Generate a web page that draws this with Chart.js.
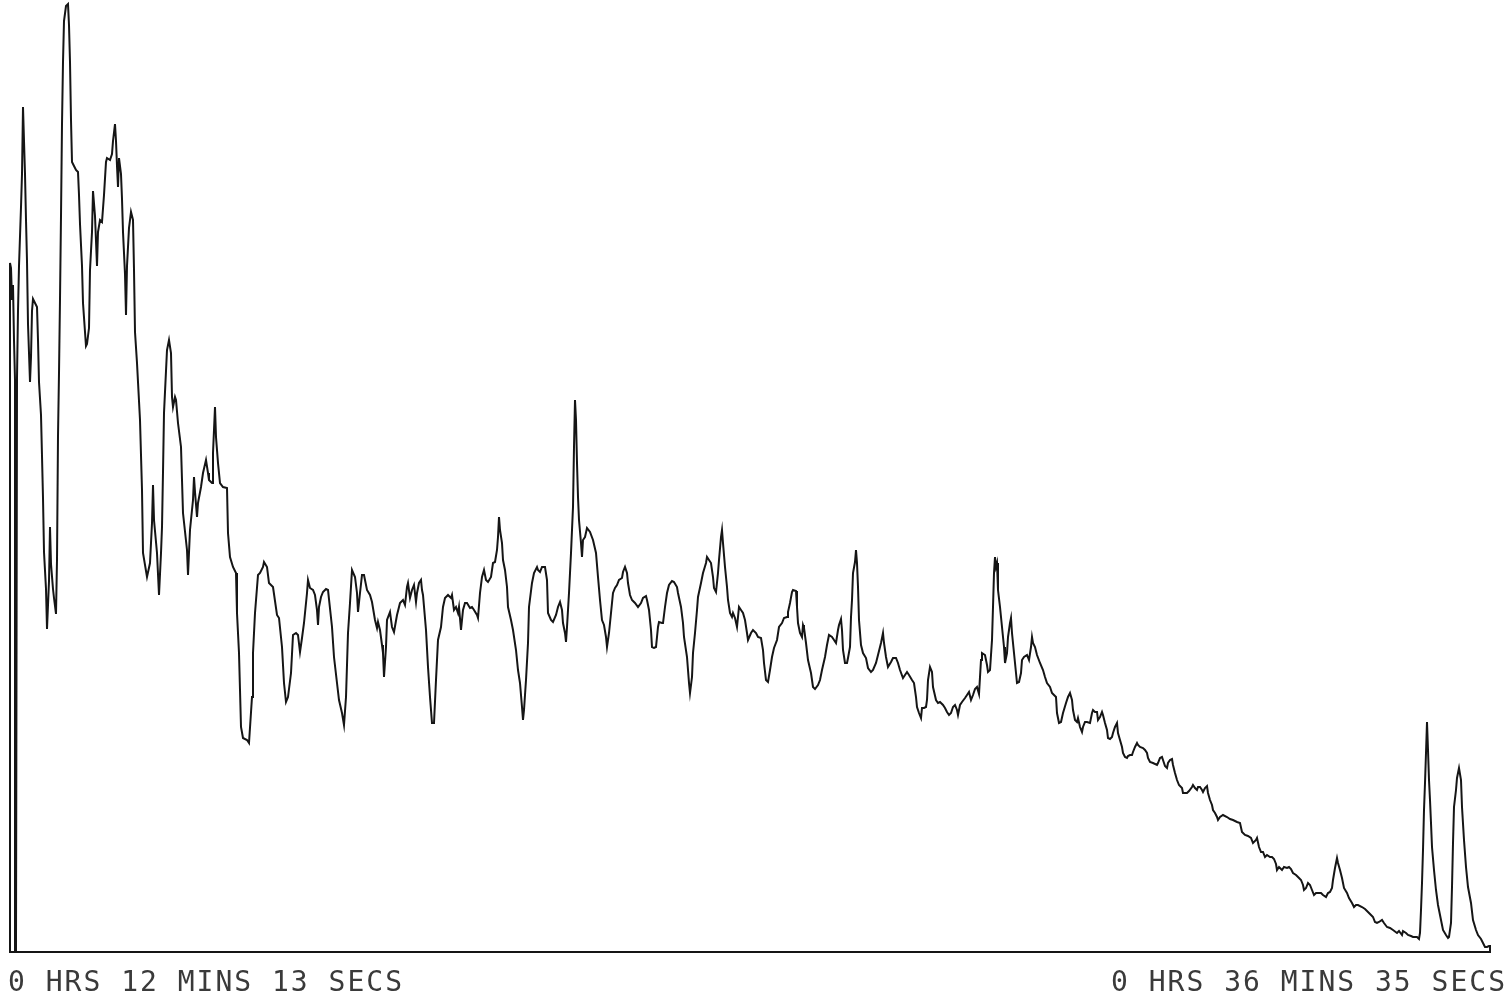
<!DOCTYPE html>
<html>
<head>
<meta charset="utf-8">
<title>Chromatogram 0:12:13 - 0:36:35</title>
<script src="https://cdn.jsdelivr.net/npm/chart.js@4.4.1/dist/chart.umd.min.js"></script>
<style>
  html, body { margin: 0; padding: 0; background: #ffffff; }
  canvas { display: block; }
</style>
</head>
<body>
<canvas id="chart" width="1509" height="1002"></canvas>
<script>
// scan number of each vertex of the trace
var scans = [
  10, 10, 11, 12, 13, 14, 15, 15, 16, 17,
  18, 19, 21, 22, 23, 24, 25, 26, 27, 28,
  29, 30, 31, 32, 33, 35, 37, 38, 39, 41,
  42, 43, 44, 46, 47, 49, 50, 51, 53, 54,
  56, 57, 58, 59, 60, 61, 62, 63, 64, 66,
  68, 69, 70, 71, 72, 74, 76, 78, 79, 80,
  82, 83, 85, 86, 87, 89, 90, 92, 93, 95,
  97, 98, 100, 102, 104, 106, 107, 110, 112, 113,
  115, 116, 117, 118, 119, 121, 122, 123, 125, 126,
  127, 129, 131, 133, 134, 135,
  137, 140, 142, 143, 147, 150, 152, 153, 154, 157,
  159, 161, 162, 163, 164, 167, 169, 171, 172, 173,
  175, 176, 178, 181, 183, 187, 188, 190, 193, 194,
  195, 197, 198, 201, 203, 206, 208, 209, 212, 213,
  215, 216, 218, 220, 223, 227, 228, 230, 233, 236,
  237, 239, 241, 243, 247, 249, 252, 253, 255, 258,
  260, 263, 264, 267, 269, 273,
  277, 279, 282, 284, 286, 288, 291, 293, 296, 298,
  300, 302, 304, 307, 308, 310, 313, 315, 317, 318,
  319, 321, 323, 326, 328, 332, 334, 337, 339, 342,
  344, 346, 348, 350, 352, 355, 357, 358, 360, 362,
  364, 367, 370, 372, 375, 377, 378, 380, 382, 383,
  384, 386, 387, 390, 392, 394, 397, 400, 403, 405,
  407, 408, 410, 412, 414, 416, 417, 419, 421, 422,
  423, 426, 428, 430, 432, 434,
  436, 438, 441, 443, 445, 448, 451, 452, 454, 456,
  458, 459, 461, 463, 465, 467, 470, 472, 474, 477,
  478, 480, 482, 484, 486, 488, 491, 493, 495, 497,
  498, 499, 500, 502, 503, 505, 507, 508, 511, 513,
  516, 518, 520, 522, 523, 524, 526, 528, 529, 532,
  534, 537, 538, 540, 542, 545, 547, 548, 551, 553,
  556, 558, 560, 562, 563, 565, 566, 567, 569, 571,
  573, 574, 575, 576, 577, 578, 579, 581, 582, 583,
  585, 587, 590, 593, 596, 598, 600,
  602, 604, 606, 607, 609, 611, 613, 615, 617, 619,
  622, 623, 625, 627, 628, 630, 632, 635, 638, 641,
  643, 646, 647, 649, 651, 652, 654, 656, 658, 659,
  662, 663, 665, 667, 669, 672, 674, 677, 678, 681,
  683, 684, 687, 688, 689, 690, 692, 693, 695, 697,
  698, 701, 703, 706, 707, 709, 711, 713, 714, 716,
  718, 719, 721, 722, 723, 725, 727, 728, 730, 732,
  733, 735, 737, 739, 741, 743, 745, 747, 748, 751,
  753,
  756, 758, 761, 763, 764, 766, 768, 770, 772, 774,
  777, 779, 782, 784, 787, 788, 790, 792, 793, 796,
  797, 798, 800, 802, 803, 804, 806, 808, 811, 813,
  815, 818, 820, 822, 825, 827, 829, 832, 834, 836,
  838, 839, 841, 842, 843, 845, 847, 848, 850, 851,
  852, 853, 855, 856, 857, 858, 859, 861, 863, 866,
  868, 871, 873, 876, 878, 881, 883, 884, 886, 888,
  891, 893, 896, 898, 900,
  903, 905, 907, 909, 912, 914, 916, 917, 919, 921,
  922, 924, 926, 927, 928, 930, 932, 933, 936, 938,
  940, 943, 945, 947, 949, 951, 953, 955, 957, 958,
  960, 962, 965, 967, 969, 971, 973, 975, 977, 979,
  981, 982, 985, 987, 988, 990, 992, 993, 994, 995,
  996, 997, 998, 1000, 1002, 1004, 1005, 1007, 1008, 1010,
  1011, 1012, 1014, 1016, 1017, 1019, 1021, 1022, 1024, 1027,
  1029, 1031, 1032, 1033, 1035, 1037, 1040, 1043, 1045, 1047,
  1050, 1052, 1054, 1056, 1057, 1059, 1061, 1063, 1066, 1068,
  1070,
  1072, 1073, 1075, 1077, 1078, 1080, 1082, 1083, 1085, 1087,
  1090, 1092, 1093, 1095, 1097, 1098, 1100, 1102, 1103, 1105,
  1107, 1108, 1110, 1112, 1113, 1115, 1117, 1118, 1120, 1122,
  1123, 1125, 1127, 1128, 1130, 1132, 1133, 1135, 1137, 1138,
  1140, 1143, 1145, 1147, 1148, 1150, 1153, 1157, 1158, 1160,
  1162, 1163, 1165, 1167, 1168, 1170, 1172, 1173, 1175, 1177,
  1179, 1182, 1183, 1187, 1189, 1192, 1193, 1195, 1197, 1198,
  1200, 1202, 1203, 1205, 1207, 1208, 1210, 1212, 1213, 1215,
  1217, 1218, 1220, 1223, 1227, 1230, 1233, 1237, 1240,
  1242, 1245, 1248, 1251, 1253, 1256, 1257, 1259, 1261, 1263,
  1265, 1267, 1270, 1272, 1274, 1276, 1277, 1279, 1282, 1284,
  1287, 1289, 1291, 1293, 1296, 1298, 1301, 1303, 1304, 1306,
  1308, 1310, 1312, 1314, 1316, 1318, 1321, 1323, 1326, 1328,
  1330, 1332, 1333, 1335, 1337, 1338, 1340, 1342, 1344, 1347,
  1349, 1352, 1354, 1356, 1358, 1362, 1365, 1368, 1371, 1373,
  1375, 1377, 1379, 1382, 1384, 1387, 1390, 1393, 1397, 1399,
  1402, 1403, 1406, 1408, 1411, 1413, 1417, 1419, 1420, 1421,
  1422, 1423, 1424, 1425, 1426, 1427, 1428, 1429, 1430, 1431,
  1432, 1434, 1436, 1438, 1441, 1443, 1446, 1448, 1449, 1451,
  1452, 1453, 1454, 1456, 1457, 1459, 1461, 1462, 1464, 1466,
  1468, 1471, 1473, 1476, 1478, 1481, 1483, 1485, 1487, 1489,
  1490, 1490
];

// detector response at each scan (arbitrary units, 0 = baseline)
var response = [
  0, 689, 684, 652, 667, 612, 572, 0, 0, 574,
  641, 686, 745, 778, 845, 811, 778, 732, 691, 628,
  599, 570, 595, 641, 653, 649, 645, 612, 570, 537,
  496, 454, 400, 363, 323, 371, 425, 388, 363, 354,
  338, 392, 516, 579, 653, 736, 828, 890, 931, 946,
  948, 927, 890, 832, 790, 786, 782, 780, 757, 728,
  686, 649, 620, 606, 608, 624, 682, 720, 761, 736,
  686, 720, 732, 730, 757, 790, 794, 792, 798, 811,
  828, 811, 786, 765, 794, 778, 753, 720, 678, 637,
  686, 724, 740, 732, 682, 620,
  589, 532, 462, 399, 375, 389, 429, 467, 432, 399,
  357, 399, 425, 480, 539, 602, 612, 599, 555, 545,
  555, 552, 529, 505, 439, 402, 377, 422, 452, 475,
  460, 435, 449, 465, 479, 492, 479, 472, 469, 499,
  545, 515, 489, 469, 465, 464, 419, 395, 385, 379,
  339, 299, 225, 214, 212, 209, 255, 299, 339, 377,
  379, 385, 390, 385, 369, 365,
  337, 334, 305, 269, 250, 255, 279, 317, 319, 317,
  300, 314, 329, 359, 372, 364, 362, 357, 342, 327,
  345, 355, 360, 363, 362, 325, 295, 269, 252, 239,
  227, 255, 319, 349, 382, 375, 359, 340, 359, 377,
  377, 362, 357, 350, 332, 324, 330, 322, 307, 299,
  275, 305, 332, 340, 325, 320, 337, 349, 352, 347,
  365, 369, 354, 362, 367, 350, 359, 369, 372, 362,
  357, 322, 285, 255, 229, 229,
  272, 312, 325, 345, 354, 357, 354, 357, 342, 345,
  339, 345, 322, 342, 349, 349, 344, 345, 342, 337,
  334, 359, 375, 382, 372, 370, 375, 389, 390, 402,
  415, 435, 422, 409, 392, 382, 365, 345, 332, 322,
  302, 282, 269, 245, 232, 242, 272, 309, 345, 369,
  379, 385, 382, 380, 385, 385, 372, 339, 332, 330,
  337, 345, 350, 342, 329, 319, 310, 325, 359, 399,
  445, 505, 552, 532, 489, 455, 432, 409, 395, 412,
  415, 424, 420, 412, 399, 375, 352,
  332, 327, 315, 305, 319, 339, 359, 364, 367, 372,
  374, 380, 385, 379, 369, 357, 352, 349, 345, 349,
  354, 356, 352, 342, 322, 305, 304, 305, 325, 330,
  329, 329, 345, 359, 367, 371, 370, 365, 359, 345,
  329, 315, 295, 282, 269, 259, 275, 299, 319, 342,
  355, 369, 379, 389, 395, 392, 389, 375, 364, 360,
  379, 392, 415, 422, 409, 385, 365, 352, 339, 335,
  339, 334, 325, 345, 342, 339, 332, 319, 312, 319,
  322,
  319, 315, 314, 302, 289, 272, 270, 282, 295, 304,
  312, 325, 329, 334, 335, 340, 349, 360, 362, 361,
  345, 329, 319, 315, 327, 324, 309, 292, 279, 265,
  263, 267, 272, 282, 295, 307, 317, 315, 312, 309,
  322, 327, 333, 322, 302, 289, 289, 294, 305, 335,
  352, 379, 390, 402, 389, 365, 332, 307, 299, 294,
  284, 280, 282, 289, 297, 309, 319, 309, 295, 285,
  290, 294, 294, 289, 282,
  274, 277, 280, 277, 272, 269, 255, 245, 239, 234,
  244, 244, 245, 252, 272, 285, 280, 265, 252, 249,
  250, 247, 244, 240, 237, 239, 245, 247, 242, 237,
  247, 250, 254, 257, 260, 252, 257, 263, 265, 258,
  292, 299, 297, 287, 280, 282, 312, 345, 379, 395,
  385, 389, 362, 345, 325, 305, 289, 299, 315, 329,
  334, 319, 299, 279, 269, 270, 279, 292, 295, 297,
  292, 305, 315, 309, 305, 297, 289, 282, 275, 269,
  265, 259, 257, 255, 239, 229, 230, 239, 249, 255,
  259,
  252, 242, 232, 230, 234, 225, 220, 225, 230, 230,
  229, 239, 242, 240, 240, 232, 235, 240, 237, 229,
  222, 214, 213, 215, 219, 225, 229, 219, 212, 205,
  199, 195, 194, 196, 197, 197, 200, 205, 209, 207,
  205, 204, 202, 199, 194, 190, 189, 187, 189, 194,
  195, 192, 186, 184, 189, 192, 193, 187, 179, 172,
  167, 164, 159, 159, 161, 165, 167, 164, 162, 165,
  165, 162, 160, 164, 166, 159, 152, 147, 142, 139,
  135, 132, 135, 137, 135, 133, 132, 130, 129,
  120, 117, 116, 114, 109, 112, 114, 105, 100, 100,
  95, 97, 95, 95, 93, 88, 82, 85, 82, 85,
  84, 85, 83, 79, 77, 75, 72, 67, 62, 64,
  69, 67, 62, 57, 59, 59, 59, 57, 55, 59,
  60, 64, 72, 84, 94, 89, 82, 74, 64, 59,
  54, 49, 45, 47, 47, 45, 43, 40, 37, 35,
  30, 29, 30, 32, 29, 25, 24, 22, 19, 21,
  17, 21, 19, 17, 16, 15, 15, 13, 19, 42,
  69, 102, 142, 169, 199, 230, 202, 172, 152, 129,
  105, 82, 62, 47, 32, 22, 17, 14, 15, 29,
  65, 109, 145, 162, 174, 184, 172, 145, 112, 85,
  65, 49, 32, 22, 17, 13, 9, 5, 5, 6,
  6, 0
];

// start / end time of the run, printed under the baseline
var timeLabels = [ "0 HRS 12 MINS 13 SECS", "0 HRS 36 MINS 35 SECS" ];

var points = scans.map( function ( s, i ) {
    return { x: s, y: response[ i ] };
} );

var timeLabelPlugin = {
    id: "timeLabels",
    afterDraw: function ( chart ) {
        var ctx = chart.ctx;
        var area = chart.chartArea;
        var x = chart.scales.x;
        ctx.save();
        ctx.font = "28px 'DejaVu Sans Mono'";
        ctx.letterSpacing = "2px";
        ctx.fillStyle = "#3a3a3a";
        ctx.textBaseline = "alphabetic";
        ctx.textAlign = "left";
        ctx.fillText( timeLabels[ 0 ], x.getPixelForValue( scans[ 0 ] ) - 2, area.bottom + 39 );
        ctx.textAlign = "right";
        ctx.fillText( timeLabels[ 1 ], chart.width - 2, area.bottom + 39 );
        ctx.restore();
    }
};

var canvas = document.getElementById( "chart" );
new Chart( canvas.getContext( "2d" ), {
    type: "line",
    data: {
        datasets: [ {
            label: "response",
            data: points,
            borderColor: "#151515",
            borderWidth: 2,
            pointRadius: 0,
            tension: 0,
            fill: false,
            clip: 6
        } ]
    },
    options: {
        responsive: false,
        animation: false,
        devicePixelRatio: 1,
        layout: {
            padding: { left: 10, right: 19, top: 0, bottom: 50 }
        },
        plugins: {
            legend: { display: false },
            tooltip: { enabled: false }
        },
        scales: {
            x: {
                type: "linear",
                min: scans[ 0 ],
                max: scans[ scans.length - 1 ],
                grid: { display: false, drawTicks: false },
                ticks: { display: false },
                border: { display: true, color: "#151515", width: 2 }
            },
            y: {
                min: 0,
                max: 952,
                display: false
            }
        }
    },
    plugins: [ timeLabelPlugin ]
} );
</script>
</body>
</html>
